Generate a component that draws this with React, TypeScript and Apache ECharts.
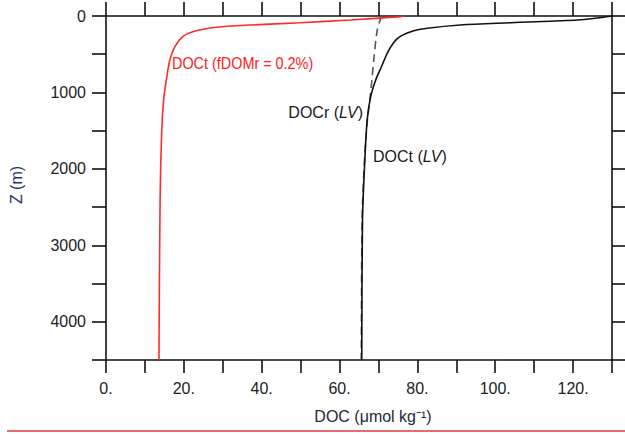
import React, { useEffect, useRef } from "react";
import * as echarts from "echarts";

// Depth (m) / DOC (µmol kg-1) profiles
const redDepth = [0, 9, 52, 88, 118, 148, 205, 270, 401, 575, 837, 1100, 1530, 2400, 4500];
const redDOC = [76.5, 75.7, 62.8, 49.9, 37, 28.4, 22.3, 19.7, 17.7, 16.4, 15.5, 14.8, 14.3, 13.9, 13.6];

const blackDepth = [0, 30, 52, 88, 118, 161, 205, 292, 444, 684, 837, 1055, 1360, 1882, 2667, 4500];
const blackDOC = [130, 125.6, 121.3, 104, 91, 82.6, 78.3, 74.9, 72.7, 70.6, 69.3, 68, 67.1, 66.5, 65.9, 65.7];

const dashDepth = [0, 183, 575, 1000, 1400, 1900, 2667, 4500];
const dashDOC = [70.8, 69.7, 68.8, 68, 67.1, 66.4, 65.8, 65.6];

const xTickStep = 10;
const yTickStep = 500;

const FONT = "'Liberation Sans', Arial, Helvetica, sans-serif";

function pairs(xs: number[], zs: number[]) {
  return xs.map((x, i) => [x, zs[i]]);
}

export default function App() {
  const ref = useRef<HTMLDivElement>(null);
  useEffect(() => {
    if (!ref.current) return;
    const chart = echarts.init(ref.current, null, { renderer: "svg" });
    const axisLine = { show: true, onZero: false, lineStyle: { color: "#111", width: 1.6 } };
    const tick = (len: number) => ({ show: true, inside: false, length: len, lineStyle: { color: "#111", width: 1.6 } });
    chart.setOption({
      animation: false,
      backgroundColor: "#fff",
      grid: { left: 106, right: 13, top: 16, bottom: 74, containLabel: false },
      xAxis: [
        {
          type: "value", position: "bottom", min: 0, max: 130, interval: xTickStep,
          axisLine, axisTick: tick(13), splitLine: { show: false },
          axisLabel: {
            margin: 20, fontSize: 16, color: "#222", fontFamily: FONT,
            formatter: (v: number) => (v % 20 === 0 ? `${v}.` : ""),
          },
        },
        {
          type: "value", position: "top", min: 0, max: 130, interval: xTickStep,
          axisLine, axisTick: tick(14), splitLine: { show: false },
          axisLabel: { show: false },
        },
      ],
      yAxis: [
        {
          type: "value", position: "left", inverse: true, min: 0, max: 4500, interval: yTickStep,
          axisLine, axisTick: tick(14), splitLine: { show: false },
          axisLabel: {
            margin: 20, fontSize: 16, color: "#222", fontFamily: FONT,
            formatter: (v: number) => (v % 1000 === 0 ? `${v}` : ""),
          },
        },
        {
          type: "value", position: "right", inverse: true, min: 0, max: 4500, interval: yTickStep,
          axisLine, axisTick: tick(13), splitLine: { show: false },
          axisLabel: { show: false },
        },
      ],
      series: [
        {
          name: "DOCr (LV)", type: "line", xAxisIndex: 0, yAxisIndex: 0, smooth: 0.3,
          showSymbol: false, data: pairs(dashDOC, dashDepth),
          lineStyle: { color: "#555", width: 1.6, type: [8, 5] },
        },
        {
          name: "DOCt (LV)", type: "line", xAxisIndex: 0, yAxisIndex: 0, smooth: 0.3,
          showSymbol: false, data: pairs(blackDOC, blackDepth),
          lineStyle: { color: "#111", width: 1.6 },
        },
        {
          name: "DOCt (fDOMr = 0.2%)", type: "line", xAxisIndex: 0, yAxisIndex: 0, smooth: 0.3,
          showSymbol: false, data: pairs(redDOC, redDepth),
          lineStyle: { color: "#ff2a2a", width: 1.6 },
        },
      ],
      graphic: [
        {
          type: "text", x: 172, y: 63, scaleX: 0.9,
          style: { text: "DOCt (fDOMr = 0.2%)", fill: "#ff2020", font: `16px ${FONT}`, verticalAlign: "middle", align: "left" },
        },
        {
          type: "text", x: 363, y: 112,
          style: {
            text: "DOCr ({i|LV})", fill: "#1a1a1a", font: `16px ${FONT}`, align: "right", verticalAlign: "middle",
            rich: { i: { fontStyle: "italic", fontSize: 16, fontFamily: FONT, fill: "#1a1a1a" } },
          },
        },
        {
          type: "text", x: 373, y: 156,
          style: {
            text: "DOCt ({i|LV})", fill: "#1a1a1a", font: `16px ${FONT}`, align: "left", verticalAlign: "middle",
            rich: { i: { fontStyle: "italic", fontSize: 16, fontFamily: FONT, fill: "#1a1a1a" } },
          },
        },
        {
          type: "text", x: 373, y: 416,
          style: { text: "DOC (μmol kg⁻¹)", fill: "#252838", font: `16px ${FONT}`, align: "center", verticalAlign: "middle" },
        },
        {
          type: "text", x: 16, y: 185, rotation: Math.PI / 2,
          style: { text: "Z (m)", fill: "#24336a", font: `16px ${FONT}`, align: "center", verticalAlign: "middle" },
        },
        {
          type: "line", shape: { x1: 7, y1: 431, x2: 625, y2: 431 },
          style: { stroke: "#d83a3c", lineWidth: 1.5 },
        },
      ],
    });
    return () => chart.dispose();
  }, []);
  return <div ref={ref} style={{ position: "fixed", left: 0, top: 0, width: 625, height: 434 }} />;
}
